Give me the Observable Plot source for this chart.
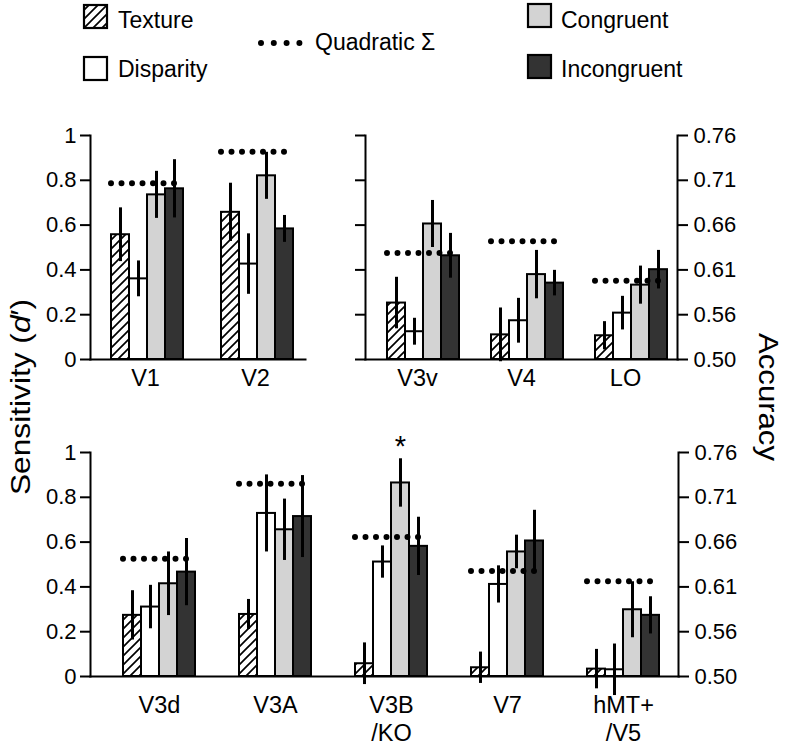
<!DOCTYPE html>
<html><head><meta charset="utf-8">
<script src="https://cdn.jsdelivr.net/npm/d3@7"></script>
<script src="https://cdn.jsdelivr.net/npm/@observablehq/plot@0.6"></script>
<style>
body{margin:0;background:#fff;}
#root{position:relative;width:794px;height:752px;font-family:"Liberation Sans",Arial,sans-serif;color:#000;overflow:hidden;background:#fff}
.layer{position:absolute;left:0;}
.lg{position:absolute;font-size:23px;line-height:1;white-space:nowrap}
.sw{position:absolute;overflow:visible}
</style></head><body>
<svg width="0" height="0" style="position:absolute">
 <defs><pattern id="hatch" patternUnits="userSpaceOnUse" width="9" height="9">
   <rect width="9" height="9" fill="white"/>
   <path d="M-1,10 L10,-1 M-1,1 L1,-1 M8,10 L10,8" stroke="black" stroke-width="1.7"/>
 </pattern></defs></svg>
<div id="root"></div>
<script>
// ---------- data ----------
const conditions = ["Texture", "Disparity", "Congruent", "Incongruent"];
const regions = ["V1", "V2", "V3v", "V4", "LO", "V3d", "V3A", "V3B/KO", "V7", "hMT+/V5"];
const regionTickLabels = ["V1", "V2", "V3v", "V4", "LO", "V3d", "V3A", "V3B\n/KO", "V7", "hMT+\n/V5"];
const panelTopLeft = ["V1", "V2"];
const panelTopRight = ["V3v", "V4", "LO"];
const panelBottom = ["V3d", "V3A", "V3B/KO", "V7", "hMT+/V5"];

const texture       = [0.557, 0.657, 0.252, 0.110, 0.106, 0.273, 0.277, 0.057, 0.039, 0.033];
const textureSE     = [0.120, 0.130, 0.115, 0.120, 0.063, 0.110, 0.067, 0.093, 0.070, 0.088];
const disparity     = [0.360, 0.426, 0.124, 0.173, 0.207, 0.310, 0.728, 0.511, 0.411, 0.030];
const disparitySE   = [0.080, 0.135, 0.060, 0.100, 0.075, 0.097, 0.172, 0.072, 0.083, 0.115];
const congruent     = [0.735, 0.820, 0.605, 0.379, 0.332, 0.414, 0.655, 0.864, 0.556, 0.298];
const congruentSE   = [0.105, 0.105, 0.105, 0.108, 0.085, 0.142, 0.137, 0.108, 0.075, 0.125];
const incongruent   = [0.762, 0.583, 0.463, 0.341, 0.401, 0.466, 0.714, 0.581, 0.605, 0.273];
const incongruentSE = [0.130, 0.060, 0.100, 0.057, 0.086, 0.150, 0.183, 0.130, 0.137, 0.083];
const quadraticSum  = [0.787, 0.928, 0.475, 0.528, 0.352, 0.526, 0.860, 0.623, 0.471, 0.425];

const starRegion = "V3B/KO";
const starCondition = "Congruent";

const yTicks = [0, 0.2, 0.4, 0.6, 0.8, 1];
const sensitivityTickLabels = ["0", "0.2", "0.4", "0.6", "0.8", "1"];
const accuracyTickLabels = ["0.50", "0.56", "0.61", "0.66", "0.71", "0.76"];

const legendLabels = ["Texture", "Disparity", "Quadratic \u03A3", "Congruent", "Incongruent"];
const leftTitle = ["Sensitivity (", "d", "\u2032)"];
const rightTitle = "Accuracy";

// ---------- styles ----------
const condFills = ["url(#hatch)", "white", "#d3d3d3", "#333333"];
const FONT = '"Liberation Sans", Arial, sans-serif';

// ---------- tables ----------
const means = [texture, disparity, congruent, incongruent];
const ses = [textureSE, disparitySE, congruentSE, incongruentSE];
const rows = [];
regions.forEach((r, i) => conditions.forEach((c, j) => {
  rows.push({region: r, cond: c, value: means[j][i], lo: means[j][i] - ses[j][i], hi: means[j][i] + ses[j][i]});
}));
const quadRows = regions.map((r, i) => ({region: r, q: quadraticSum[i], first: conditions[0], last: conditions[conditions.length - 1]}));
const starRows = rows.filter(d => d.region === starRegion && d.cond === starCondition);
const tickLabel = d => regionTickLabels[regions.indexOf(d)];

const root = document.getElementById("root");
function place(el, top) {
  const div = document.createElement("div");
  div.className = "layer";
  div.style.top = top + "px";
  div.appendChild(el);
  root.appendChild(div);
}
const plotStyle = {background: "transparent", overflow: "visible", fontFamily: FONT};

function axesPlot({height, top, bottom, left, right, leftLabels, rightLabels}) {
  return Plot.plot({
    width: 794, height,
    marginTop: top, marginBottom: bottom, marginLeft: left, marginRight: right,
    style: plotStyle,
    y: {domain: [0, 1], axis: null},
    marks: [
      Plot.frame({anchor: "bottom", strokeWidth: 2}),
      Plot.frame({anchor: "left", strokeWidth: 2}),
      rightLabels ? Plot.frame({anchor: "right", strokeWidth: 2}) : null,
      Plot.axisY(yTicks, {anchor: "left", tickSize: 10, tickPadding: 4, strokeWidth: 2, fontSize: 22, label: null,
        tickFormat: d => leftLabels ? leftLabels[yTicks.indexOf(d)] : ""}),
      rightLabels ? Plot.axisY(yTicks, {anchor: "right", tickSize: 10, tickPadding: 6, strokeWidth: 2, fontSize: 22, label: null,
        tickFormat: d => rightLabels[yTicks.indexOf(d)]}) : null
    ]
  });
}

function barPlot(panel, {height, top, bottom, left, right, po, align, labelPad}) {
  const data = rows.filter(d => panel.includes(d.region));
  const quad = quadRows.filter(d => panel.includes(d.region));
  const stars = starRows.filter(d => panel.includes(d.region));
  return Plot.plot({
    width: 794, height,
    marginTop: top, marginBottom: bottom, marginLeft: left, marginRight: right,
    style: plotStyle,
    fx: {domain: panel, padding: 0, label: null},
    x: {domain: conditions, paddingInner: 0, paddingOuter: po, align, axis: null},
    y: {domain: [0, 1], axis: null},
    color: {type: "ordinal", domain: conditions, range: condFills},
    marks: [
      Plot.barY(data, {fx: "region", x: "cond", y: "value", fill: "cond", stroke: "black", strokeWidth: 2}),
      Plot.ruleY(quad, {fx: "region", y: "q", x1: "first", x2: "last", stroke: "black", strokeWidth: 6,
        strokeLinecap: "round", strokeDasharray: "0,10.5"}),
      Plot.ruleX(data, {fx: "region", x: "cond", y1: "lo", y2: "hi", stroke: "black", strokeWidth: 3}),
      Plot.text(stars, {fx: "region", x: "cond", y: "hi", text: () => "*", dy: -12, fontSize: 29}),
      Plot.axisFx({anchor: "bottom", tickSize: 0, tickPadding: labelPad, fontSize: 23.5, lineHeight: 1.17, label: null, tickFormat: tickLabel})
    ]
  });
}

// top-left panel
place(axesPlot({height: 410, top: 135, bottom: 51, left: 90, right: 489, leftLabels: sensitivityTickLabels}), 0);
place(barPlot(panelTopLeft, {height: 410, top: 135, bottom: 51, left: 90, right: 484, po: 1.01, align: 0.55, labelPad: 7}), 0);
// top-right panel
place(axesPlot({height: 410, top: 135, bottom: 51, left: 365, right: 117, rightLabels: accuracyTickLabels}), 0);
place(barPlot(panelTopRight, {height: 410, top: 135, bottom: 51, left: 365, right: 117, po: 0.8, align: 0.69, labelPad: 7}), 0);
// bottom panel
place(axesPlot({height: 352, top: 52, bottom: 76, left: 90, right: 116, leftLabels: sensitivityTickLabels, rightLabels: accuracyTickLabels}), 400);
place(barPlot(panelBottom, {height: 352, top: 52, bottom: 76, left: 100, right: 112, po: 1.15, align: 0.5, labelPad: 17}), 400);

// axis titles (rotated)
function vtitle(parts, cx, cy, rot, len) {
  const s = d3.create("svg").attr("class", "sw").attr("width", 40).attr("height", 260)
    .style("left", (cx - 20) + "px").style("top", (cy - 130) + "px");
  const t = s.append("text").attr("transform", `translate(20,130) rotate(${rot})`)
    .attr("text-anchor", "middle").attr("dy", "0.35em")
    .attr("font-family", FONT).attr("font-size", 28)
    .attr("textLength", len).attr("lengthAdjust", "spacingAndGlyphs");
  parts.forEach((p, i) => t.append("tspan").attr("font-style", parts.length > 1 && i === 1 ? "italic" : null).text(p));
  root.appendChild(s.node());
}
vtitle(leftTitle, 20, 397, -90, 196);
vtitle([rightTitle], 769, 397, 90, 128);

// legend
function swatch(x, y, fill) {
  const s = d3.create("svg").attr("class", "sw").attr("width", 27).attr("height", 27)
    .style("left", (x - 2) + "px").style("top", (y - 2) + "px");
  s.append("rect").attr("x", 2).attr("y", 2).attr("width", 23).attr("height", 23)
    .attr("fill", fill).attr("stroke", "black").attr("stroke-width", 2.2);
  root.appendChild(s.node());
}
function label(x, baseline, text) {
  const d = document.createElement("div");
  d.className = "lg";
  d.textContent = text;
  d.style.left = x + "px";
  d.style.top = (baseline - 19.5) + "px";
  root.appendChild(d);
}
swatch(84, 5, condFills[0]);  label(118, 28, legendLabels[0]);
swatch(84, 57, condFills[1]); label(118, 77, legendLabels[1]);
const qd = d3.create("svg").attr("class", "sw").attr("width", 60).attr("height", 12)
  .style("left", "255px").style("top", "37px");
qd.append("line").attr("x1", 6).attr("x2", 44.5).attr("y1", 6).attr("y2", 6)
  .attr("stroke", "black").attr("stroke-width", 6).attr("stroke-linecap", "round").attr("stroke-dasharray", "0,12.8");
root.appendChild(qd.node());
label(315, 50, legendLabels[2]);
swatch(528, 4, condFills[2]);  label(561, 28, legendLabels[3]);
swatch(528, 55, condFills[3]); label(561, 77, legendLabels[4]);
</script>
</body></html>
